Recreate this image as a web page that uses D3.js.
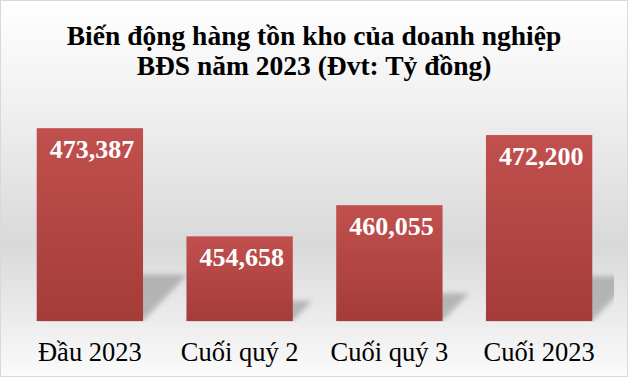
<!DOCTYPE html>
<html>
<head>
<meta charset="utf-8">
<script src="https://cdn.jsdelivr.net/npm/d3@7"></script>
<style>
  html, body { margin: 0; padding: 0; background: #fff; }
  svg { display: block; }
</style>
</head>
<body>
<svg id="chart"></svg>
<script>
const categories = ['Đầu 2023', 'Cuối quý 2', 'Cuối quý 3', 'Cuối 2023'];
const values = [473387, 454658, 460055, 472200];
const valueLabels = ['473,387', '454,658', '460,055', '472,200'];
const titleLines = ['Biến động hàng tồn kho của doanh nghiệp', 'BĐS năm 2023 (Đvt: Tỷ đồng)'];

const width = 628, height = 377;
const font = '"Liberation Serif", "Times New Roman", serif';

const svg = d3.select('#chart')
  .attr('width', width)
  .attr('height', height);

const defs = svg.append('defs');

// background: white at top, grey in the middle, lighter at the bottom
const bg = defs.append('linearGradient')
  .attr('id', 'bg').attr('x1', 0).attr('y1', 0).attr('x2', 0).attr('y2', 1);
bg.append('stop').attr('offset', '0%').attr('stop-color', '#ffffff');
bg.append('stop').attr('offset', '30%').attr('stop-color', '#efefef');
bg.append('stop').attr('offset', '65%').attr('stop-color', '#d9d9d9');
bg.append('stop').attr('offset', '85%').attr('stop-color', '#ececec');
bg.append('stop').attr('offset', '100%').attr('stop-color', '#fbfbfb');

const barGrad = defs.append('linearGradient')
  .attr('id', 'barGrad').attr('x1', 0).attr('y1', 0).attr('x2', 0).attr('y2', 1);
barGrad.append('stop').attr('offset', '0%').attr('stop-color', '#c1504e');
barGrad.append('stop').attr('offset', '100%').attr('stop-color', '#a43c3a');

defs.append('filter').attr('id', 'blur')
  .attr('x', '-20%').attr('y', '-20%').attr('width', '140%').attr('height', '140%')
  .append('feGaussianBlur').attr('stdDeviation', 2.5);

defs.append('clipPath').attr('id', 'plotClip')
  .append('rect').attr('x', 15).attr('y', 80).attr('width', 599).attr('height', 242);

svg.append('rect')
  .attr('x', 0.5).attr('y', 0.5)
  .attr('width', width - 1).attr('height', height - 1)
  .attr('fill', 'url(#bg)')
  .attr('stroke', '#d9d9d9');

// title
svg.append('text')
  .attr('x', width / 2)
  .attr('text-anchor', 'middle')
  .style('font-family', font)
  .style('font-weight', 'bold')
  .style('font-size', '27.5px')
  .attr('fill', '#000')
  .selectAll('tspan')
  .data(titleLines)
  .enter().append('tspan')
  .attr('x', width / 2)
  .attr('y', (d, i) => 45 + i * 30)
  .text(d => d);

const x = d3.scaleBand()
  .domain(categories)
  .range([15, 614])
  .paddingInner(0.29)
  .paddingOuter(0.145);

const y = d3.scaleLinear()
  .domain([440000, 480000])
  .range([321, 90]);

const data = categories.map((c, i) => ({ cat: c, value: values[i], label: valueLabels[i] }));
const base = y.range()[0];

// skewed shadows behind the bars
svg.append('g')
  .attr('clip-path', 'url(#plotClip)')
  .selectAll('polygon')
  .data(data)
  .enter().append('polygon')
  .attr('points', d => {
    const x0 = x(d.cat), x1 = x0 + x.bandwidth();
    const h = (base - y(d.value)) * 0.24;
    const s = h * 0.95;
    return [[x0, base], [x1, base], [x1 + s, base - h], [x0 + s, base - h]]
      .map(p => p.join(',')).join(' ');
  })
  .attr('fill', '#8c8c8c')
  .attr('opacity', 0.55)
  .attr('filter', 'url(#blur)');

svg.append('g')
  .selectAll('rect')
  .data(data)
  .enter().append('rect')
  .attr('x', d => x(d.cat))
  .attr('y', d => y(d.value))
  .attr('width', x.bandwidth())
  .attr('height', d => base - y(d.value))
  .attr('fill', 'url(#barGrad)');

svg.append('g')
  .selectAll('text')
  .data(data)
  .enter().append('text')
  .attr('x', d => x(d.cat) + x.bandwidth() / 2 + 2)
  .attr('y', d => y(d.value) + 30)
  .attr('text-anchor', 'middle')
  .style('font-family', font)
  .style('font-weight', 'bold')
  .style('font-size', '26px')
  .attr('fill', '#fff')
  .text(d => d.label);

// category axis, no line or ticks
const xAxis = svg.append('g')
  .attr('transform', 'translate(0,' + base + ')')
  .call(d3.axisBottom(x).tickSize(0).tickPadding(0));
xAxis.select('.domain').remove();
xAxis.selectAll('text')
  .attr('dy', null)
  .attr('y', 40)
  .style('font-family', font)
  .style('font-size', '26.5px')
  .attr('fill', '#000');
</script>
</body>
</html>
